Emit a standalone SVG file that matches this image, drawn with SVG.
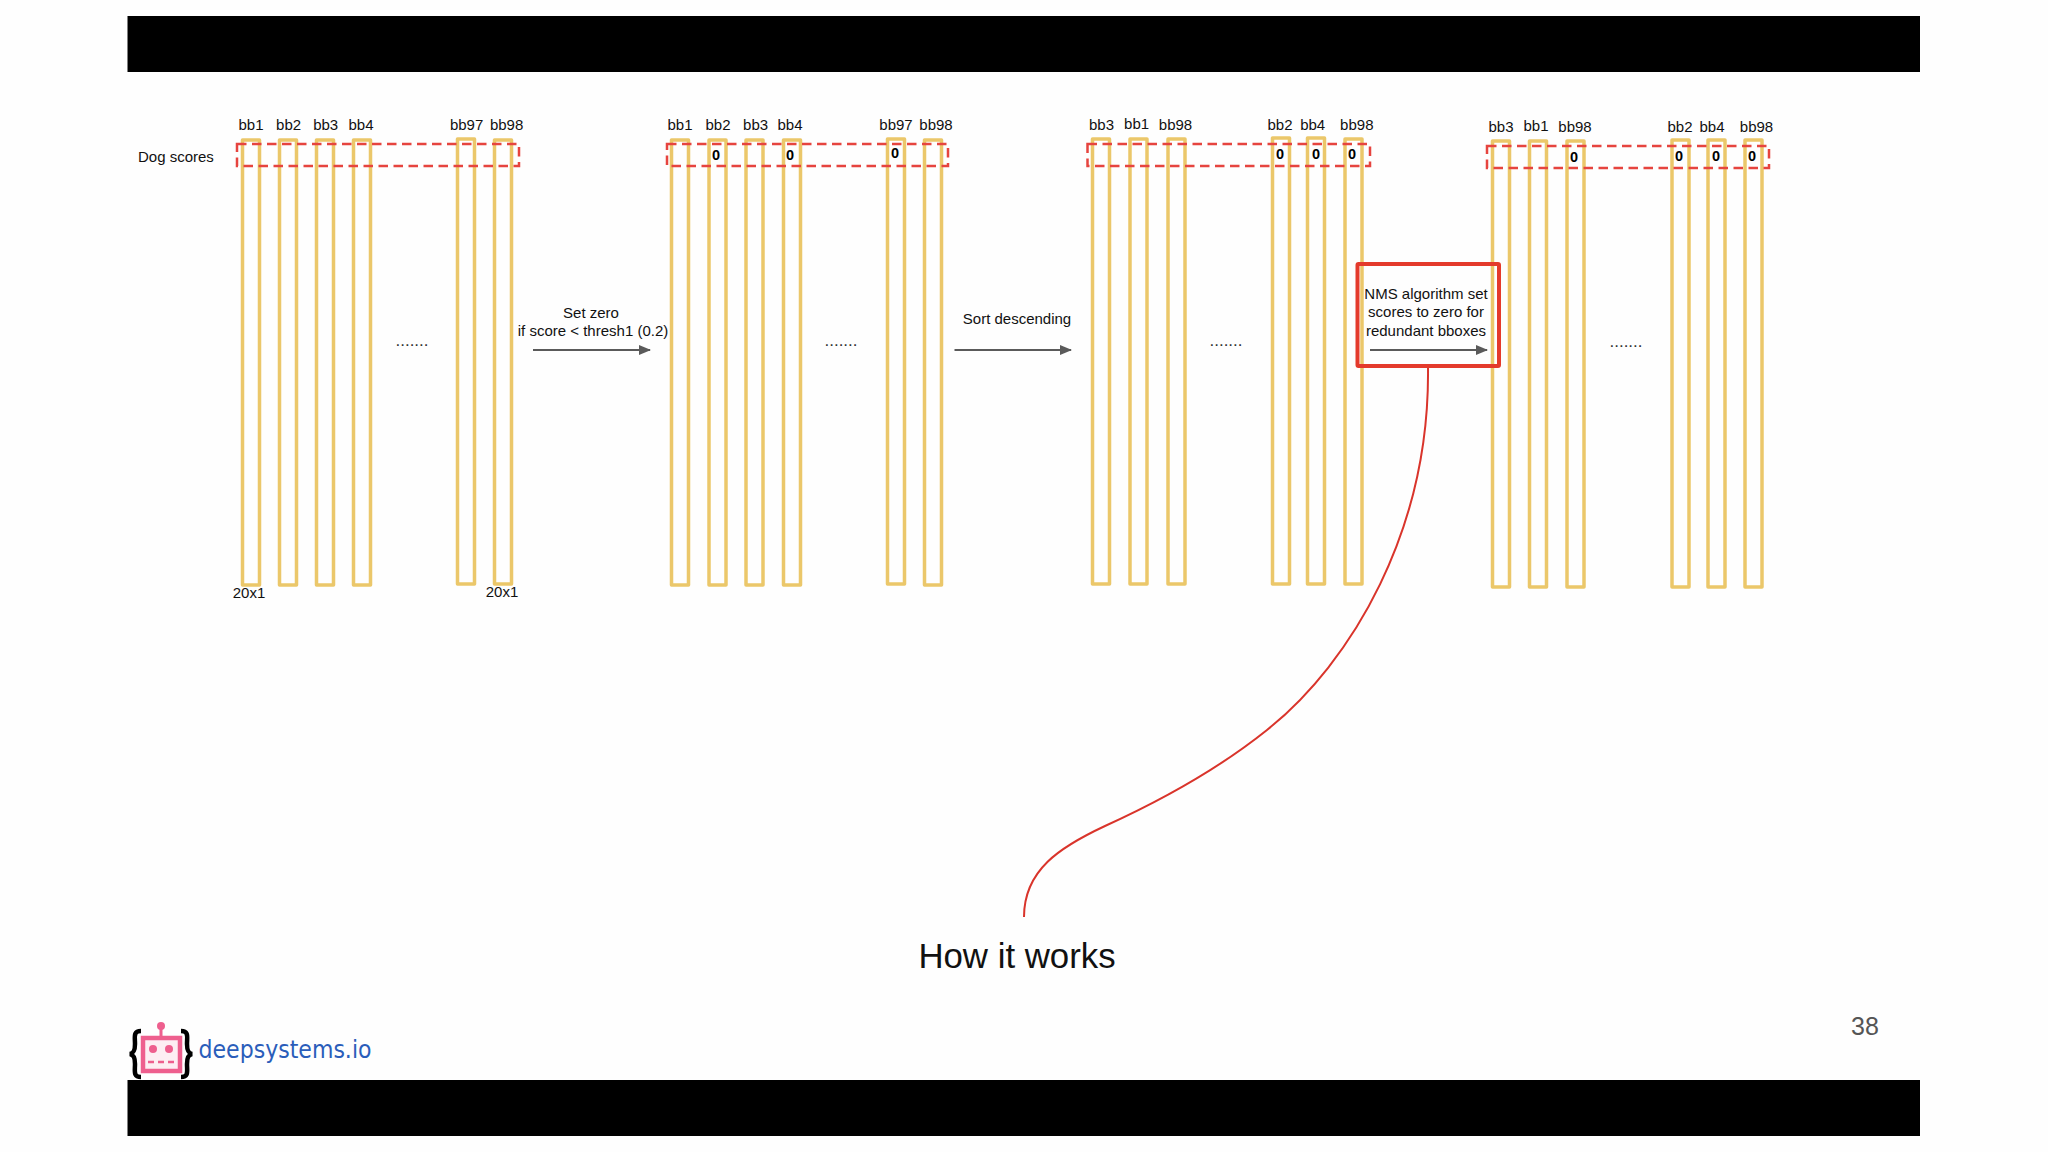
<svg xmlns="http://www.w3.org/2000/svg" width="2048" height="1152" viewBox="0 0 2048 1152">
<style>
text{font-family:"Liberation Sans",Arial,sans-serif;fill:#111}
.l{font-size:15px;text-anchor:middle}
.z{font-size:14.5px;font-weight:bold;text-anchor:middle;fill:#000}
.b{fill:none;stroke:#ebc76a;stroke-width:3.5;stroke-linejoin:round}
.d{fill:none;stroke:#e6443f;stroke-width:2.5;stroke-dasharray:9.5 5.5}
.a{fill:none;stroke:#5a5a5a;stroke-width:2;marker-end:url(#ah)}
.dots{font-size:17px;text-anchor:middle;fill:#333}
</style>
<defs>
<marker id="ah" markerUnits="userSpaceOnUse" markerWidth="12" markerHeight="10" refX="11" refY="5" orient="auto"><path d="M0 0L12 5L0 10Z" fill="#5a5a5a"/></marker>
</defs>
<rect width="2048" height="1152" fill="#fefefe"/>
<rect x="127.500" y="16" width="1792.500" height="56" fill="#000"/>
<rect x="127.500" y="1080" width="1792.500" height="56" fill="#000"/>
<text x="138" y="162" style="font-size:15px">Dog scores</text>

<g id="stage1">
<g id="s1-bb1"><rect class="b" x="242.500" y="140" width="17" height="445"/><text class="l" x="251" y="130">bb1</text></g>
<g id="s1-bb2"><rect class="b" x="279.500" y="140" width="17" height="445"/><text class="l" x="288.600" y="130">bb2</text></g>
<g id="s1-bb3"><rect class="b" x="316.500" y="140" width="17" height="445"/><text class="l" x="325.700" y="130">bb3</text></g>
<g id="s1-bb4"><rect class="b" x="353.500" y="140" width="17" height="445"/><text class="l" x="361" y="130">bb4</text></g>
<g id="s1-bb97"><rect class="b" x="457.500" y="139" width="17" height="445"/><text class="l" x="466.600" y="130">bb97</text></g>
<g id="s1-bb98"><rect class="b" x="494.500" y="140" width="17" height="444"/><text class="l" x="506.600" y="130">bb98</text></g>
<rect class="d" x="237" y="144" width="282" height="22"/>
<text class="dots" x="412" y="346">.......</text>
<text class="l" x="249" y="598">20x1</text>
<text class="l" x="502" y="597">20x1</text>
</g>

<g id="stage2">
<g id="s2-bb1"><rect class="b" x="671.500" y="140" width="17" height="445"/><text class="l" x="680" y="130">bb1</text></g>
<g id="s2-bb2"><rect class="b" x="709" y="140" width="17" height="445"/><text class="l" x="718" y="130">bb2</text><text class="z" x="716" y="160">0</text></g>
<g id="s2-bb3"><rect class="b" x="746" y="140" width="17" height="445"/><text class="l" x="755.600" y="130">bb3</text></g>
<g id="s2-bb4"><rect class="b" x="783.500" y="140" width="17" height="445"/><text class="l" x="790" y="130">bb4</text><text class="z" x="790" y="160">0</text></g>
<g id="s2-bb97"><rect class="b" x="887.500" y="139" width="17" height="445"/><text class="l" x="896" y="130">bb97</text><text class="z" x="895" y="158">0</text></g>
<g id="s2-bb98"><rect class="b" x="924.500" y="140" width="17" height="445"/><text class="l" x="936" y="130">bb98</text></g>
<rect class="d" x="667" y="144" width="281" height="22"/>
<text class="dots" x="841" y="346">.......</text>
</g>

<g id="stage3">
<g id="s3-bb3"><rect class="b" x="1092.500" y="139" width="17" height="445"/><text class="l" x="1101.500" y="130">bb3</text></g>
<g id="s3-bb1"><rect class="b" x="1130" y="139" width="17" height="445"/><text class="l" x="1136.600" y="129">bb1</text></g>
<g id="s3-bb98a"><rect class="b" x="1168" y="139" width="17" height="445"/><text class="l" x="1175.500" y="130">bb98</text></g>
<g id="s3-bb2"><rect class="b" x="1272.500" y="138" width="17" height="446"/><text class="l" x="1280" y="130">bb2</text><text class="z" x="1280" y="159">0</text></g>
<g id="s3-bb4"><rect class="b" x="1307.500" y="138" width="17" height="446"/><text class="l" x="1312.700" y="130">bb4</text><text class="z" x="1316" y="159">0</text></g>
<g id="s3-bb98b"><rect class="b" x="1345" y="139" width="17" height="445"/><text class="l" x="1356.800" y="130">bb98</text><text class="z" x="1352" y="159">0</text></g>
<rect class="d" x="1087.500" y="144" width="282.500" height="22"/>
<text class="dots" x="1226" y="346">.......</text>
</g>

<g id="stage4">
<g id="s4-bb3"><rect class="b" x="1492.500" y="141" width="17" height="446"/><text class="l" x="1501" y="132">bb3</text></g>
<g id="s4-bb1"><rect class="b" x="1529.500" y="141" width="17" height="446"/><text class="l" x="1536" y="131">bb1</text></g>
<g id="s4-bb98a"><rect class="b" x="1567" y="141" width="17" height="446"/><text class="l" x="1575" y="132">bb98</text><text class="z" x="1574" y="162">0</text></g>
<g id="s4-bb2"><rect class="b" x="1672" y="140" width="17" height="447"/><text class="l" x="1680" y="132">bb2</text><text class="z" x="1679" y="161">0</text></g>
<g id="s4-bb4"><rect class="b" x="1708" y="140" width="17" height="447"/><text class="l" x="1712" y="132">bb4</text><text class="z" x="1716" y="161">0</text></g>
<g id="s4-bb98b"><rect class="b" x="1745" y="140" width="17" height="447"/><text class="l" x="1756.500" y="132">bb98</text><text class="z" x="1752" y="161">0</text></g>
<rect class="d" x="1487" y="146" width="282" height="22"/>
<text class="dots" x="1626" y="347">.......</text>
</g>

<g id="connectors">
<path class="a" d="M533 350H650"/>
<path class="a" d="M954.500 350H1071"/>
<path class="a" d="M1370 350H1487"/>
<path d="M1428 367C1430 530 1352 662 1267 730C1217 770 1160 801 1105 826C1060 847 1024 870 1024 917" fill="none" stroke="#d9342b" stroke-width="2"/>
</g>

<g id="label-setzero"><text class="l" x="591" y="318">Set zero</text><text class="l" x="593" y="336">if score &lt; thresh1 (0.2)</text></g>
<g id="label-sort"><text class="l" x="1017" y="324">Sort descending</text></g>
<g id="nms-box"><rect x="1357.500" y="264" width="141.500" height="102" rx="1" fill="none" stroke="#e43a2c" stroke-width="4"/>
<text class="l" x="1426" y="299">NMS algorithm set</text><text class="l" x="1426" y="317">scores to zero for</text><text class="l" x="1426" y="336">redundant bboxes</text></g>

<g id="title"><text x="1017" y="968" text-anchor="middle" style="font-size:34.8px">How it works</text></g>
<text x="1865" y="1035" text-anchor="middle" style="font-size:25px;fill:#555">38</text>

<g id="logo">
<path d="M141 1031C133 1031 135 1037 135 1044C135 1050 134 1053 130 1054C134 1055 135 1058 135 1064C135 1071 133 1077 141 1077" fill="none" stroke="#000" stroke-width="4.500"/>
<path d="M181 1031C189 1031 187 1037 187 1044C187 1050 188 1053 192 1054C188 1055 187 1058 187 1064C187 1071 189 1077 181 1077" fill="none" stroke="#000" stroke-width="4.500"/>
<rect x="143" y="1038" width="37" height="33" fill="#fdeef3" stroke="#ee5f8e" stroke-width="4.500"/>
<path d="M161 1037V1028" stroke="#ee5f8e" stroke-width="3"/>
<circle cx="161" cy="1026" r="4" fill="#ee5f8e"/>
<circle cx="153" cy="1049" r="4" fill="#ee5f8e"/>
<circle cx="169" cy="1049" r="4" fill="#ee5f8e"/>
<path d="M148 1062H174" stroke="#ee5f8e" stroke-width="2.500" stroke-dasharray="6 4"/>
<text x="198.500" y="1058" textLength="173" lengthAdjust="spacingAndGlyphs" style="font-family:'DejaVu Sans',sans-serif;font-size:24px;fill:#2a5dba">deepsystems.io</text>
</g>
</svg>
